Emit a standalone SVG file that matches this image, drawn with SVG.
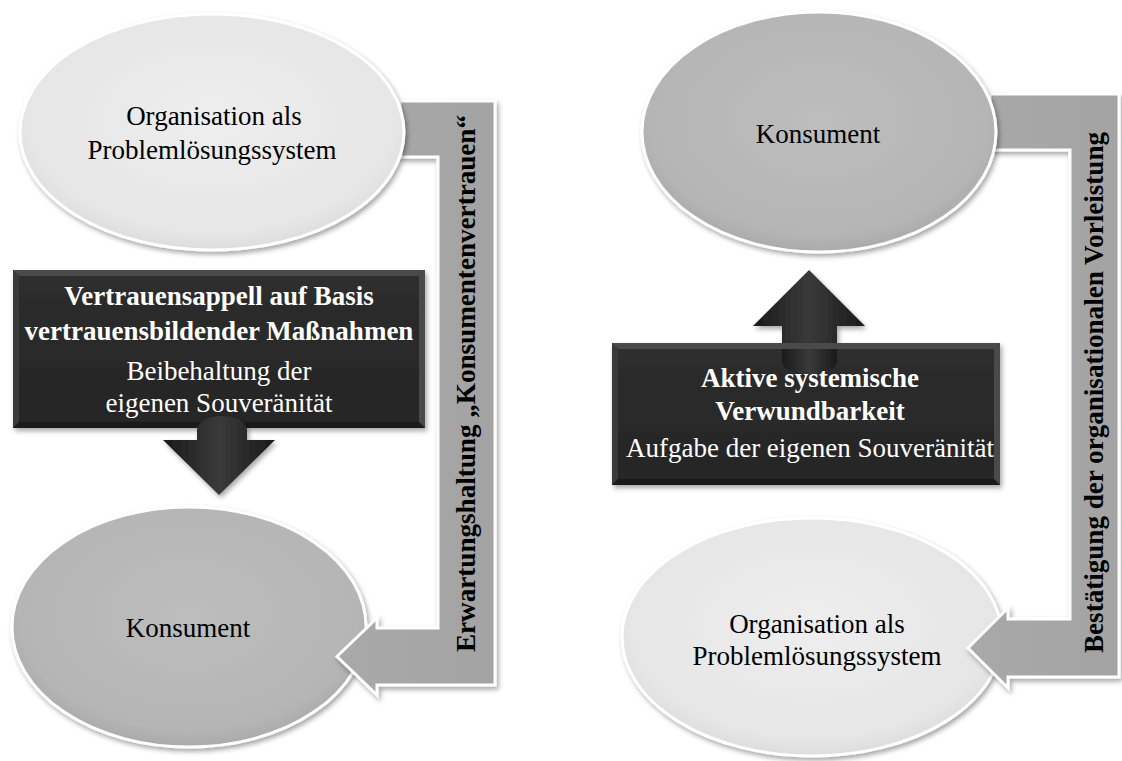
<svg xmlns="http://www.w3.org/2000/svg" width="1122" height="761" viewBox="0 0 1122 761">
<defs>
<style>
.t{font-family:"Liberation Serif","Times New Roman",serif;font-size:27px;text-anchor:middle}
.b{font-weight:bold}
.w{fill:#ffffff}
.k{fill:#000000}
.ell{stroke:#ffffff;stroke-width:3}
.band{fill:url(#gBand);stroke:#ffffff;stroke-width:3;stroke-linejoin:miter}
</style>
<filter id="sh" x="-10%" y="-10%" width="125%" height="125%">
<feDropShadow dx="2" dy="3" stdDeviation="2.5" flood-color="#000" flood-opacity="0.35"/>
</filter>
<radialGradient id="gLight" cx="0.5" cy="0.45" r="0.6">
<stop offset="0" stop-color="#eeeeee"/>
<stop offset="0.8" stop-color="#e6e6e6"/>
<stop offset="1" stop-color="#d6d6d6"/>
</radialGradient>
<radialGradient id="gMid" cx="0.5" cy="0.45" r="0.6">
<stop offset="0" stop-color="#bdbdbd"/>
<stop offset="0.8" stop-color="#b5b5b5"/>
<stop offset="1" stop-color="#a2a2a2"/>
</radialGradient>
<linearGradient id="gBand" x1="0" y1="0" x2="1" y2="0">
<stop offset="0" stop-color="#a9a9a9"/>
<stop offset="1" stop-color="#a3a3a3"/>
</linearGradient>
<linearGradient id="gBox" x1="0" y1="0" x2="0" y2="1">
<stop offset="0" stop-color="#2e2e2e"/>
<stop offset="1" stop-color="#252525"/>
</linearGradient>
<linearGradient id="gArrD" x1="0" y1="0" x2="1" y2="0">
<stop offset="0" stop-color="#1a1a1a"/>
<stop offset="0.5" stop-color="#3a3a3a"/>
<stop offset="1" stop-color="#1a1a1a"/>
</linearGradient>
</defs>

<g id="ellipse-left-bottom">
<ellipse class="ell" cx="189" cy="627" rx="177" ry="120" fill="url(#gMid)" filter="url(#sh)"/>
<text class="t k" x="188" y="637">Konsument</text>
</g>

<g id="ellipse-right-bottom">
<ellipse class="ell" cx="812" cy="637" rx="190" ry="119" fill="url(#gLight)" filter="url(#sh)"/>
<text class="t k" x="817" y="633">Organisation als</text>
<text class="t k" x="817" y="665">Problemlösungssystem</text>
</g>

<g id="connectors">
<path class="band" filter="url(#sh)" d="M 400,101 H 495 V 685 H 377 V 695 L 337,656.5 L 377,618 V 628 H 438 V 157 H 400 Z"/>
<text class="t b k" transform="translate(475,383.5) rotate(-90)" textLength="537" lengthAdjust="spacingAndGlyphs">Erwartungshaltung „Konsumentenvertrauen“</text>
<path class="band" filter="url(#sh)" d="M 990,94 H 1119 V 677 H 1008 V 688 L 968,648 L 1008,608 V 619 H 1070 V 150 H 990 Z"/>
<text class="t b k" transform="translate(1103,392.5) rotate(-90)" textLength="521" lengthAdjust="spacingAndGlyphs">Bestätigung der organisationalen Vorleistung</text>
</g>

<g id="ellipse-left-top">
<ellipse class="ell" cx="212" cy="132" rx="192" ry="118" fill="url(#gLight)" filter="url(#sh)"/>
<text class="t k" x="214" y="125">Organisation als</text>
<text class="t k" x="212" y="159">Problemlösungssystem</text>
</g>

<g id="ellipse-right-top">
<ellipse class="ell" cx="819" cy="132" rx="177" ry="120" fill="url(#gMid)" filter="url(#sh)"/>
<text class="t k" x="818" y="143">Konsument</text>
</g>

<g id="box-left">
<rect x="13" y="270" width="412" height="158" fill="url(#gBox)" filter="url(#sh)"/>
<polygon points="13,270 425,270 419,276 19,276" fill="#4a4a4a"/>
<polygon points="13,270 19,276 19,422 13,428" fill="#3a3a3a"/>
<polygon points="425,270 425,428 419,422 419,276" fill="#4a4a4a"/>
<polygon points="13,428 425,428 419,422 19,422" fill="#1a1a1a"/>
<text class="t b w" x="219" y="305">Vertrauensappell auf Basis</text>
<text class="t b w" x="219" y="340">vertrauensbildender Maßnahmen</text>
<text class="t w" x="219" y="380">Beibehaltung der</text>
<text class="t w" x="219" y="412">eigenen Souveränität</text>
</g>
<g id="arrow-down" filter="url(#sh)">
<path d="M 197,430 A 25,14 0 0 1 247,430 V 440 H 275 L 219,495 L 163,440 H 197 Z" fill="url(#gArrD)"/>
</g>

<g id="arrow-up" filter="url(#sh)">
<path d="M 782,360 V 326 H 753 L 809,270 L 865,326 H 837 V 360 Z" fill="url(#gArrD)"/>
</g>
<g id="box-right">
<rect x="612" y="343" width="388" height="142" fill="url(#gBox)" filter="url(#sh)"/>
<polygon points="612,343 1000,343 994,349 618,349" fill="#4a4a4a"/>
<polygon points="612,343 618,349 618,479 612,485" fill="#3a3a3a"/>
<polygon points="1000,343 1000,485 994,479 994,349" fill="#4a4a4a"/>
<polygon points="612,485 1000,485 994,479 618,479" fill="#1a1a1a"/>
<path d="M 782,349 V 362 A 27.5,12 0 0 0 837,362 V 349 Z" fill="url(#gArrD)"/>
<text class="t b w" x="810" y="387">Aktive systemische</text>
<text class="t b w" x="810" y="420">Verwundbarkeit</text>
<text class="t w" x="810" y="457">Aufgabe der eigenen Souveränität</text>
</g>
</svg>
